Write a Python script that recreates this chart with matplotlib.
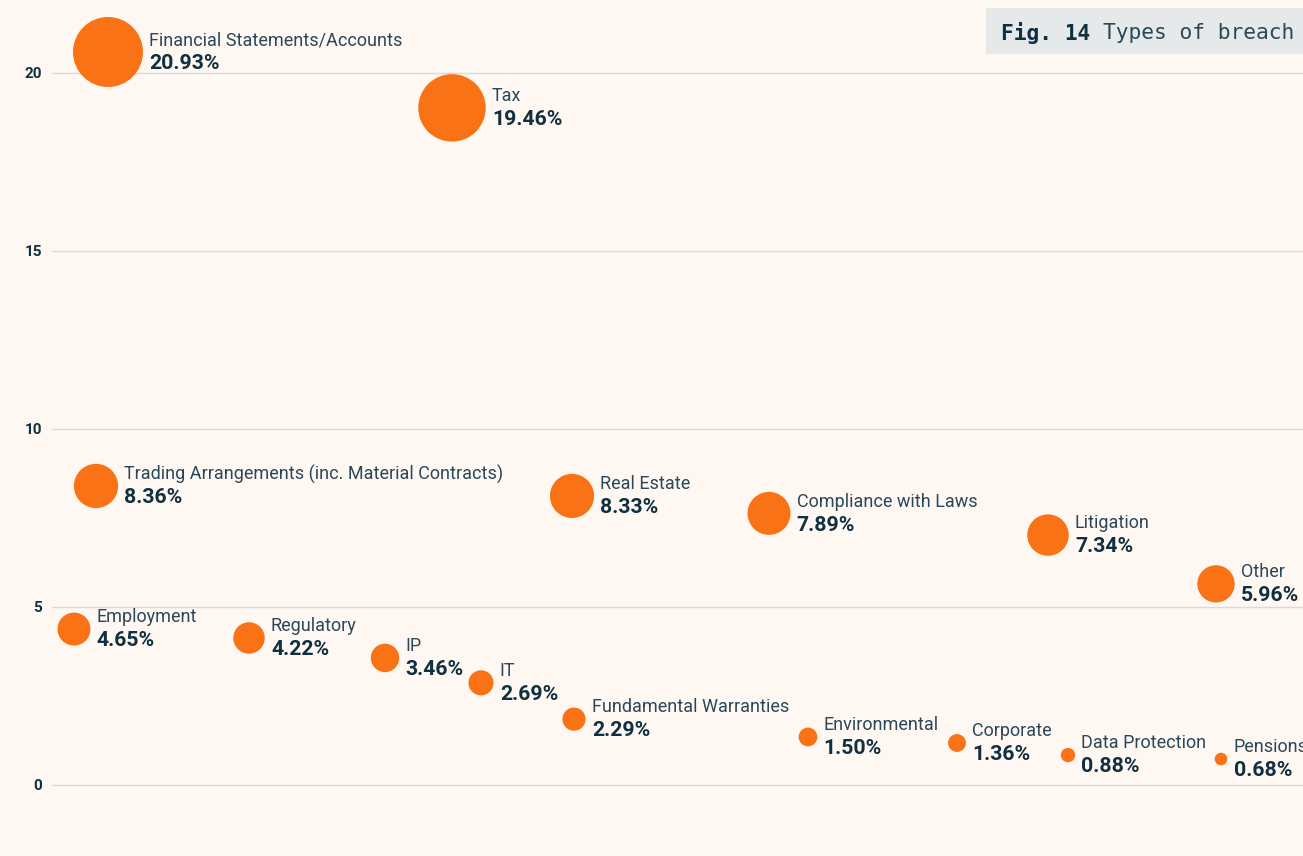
import numpy as np
import matplotlib

matplotlib.use("Agg")
import matplotlib.pyplot as plt
from matplotlib.patches import Rectangle

# breach types, share of claims (%)
categories = [
    "Financial Statements/Accounts", "Tax",
    "Trading Arrangements (inc. Material Contracts)", "Real Estate",
    "Compliance with Laws", "Litigation", "Other", "Employment",
    "Regulatory", "IP", "IT", "Fundamental Warranties", "Environmental",
    "Corporate", "Data Protection", "Pensions",
]
share = [20.93, 19.46, 8.36, 8.33, 7.89, 7.34, 5.96, 4.65,
         4.22, 3.46, 2.69, 2.29, 1.50, 1.36, 0.88, 0.68]
# bubble placement (no visible x axis)
x_pos = [56, 400, 44, 520, 717, 996, 1164, 22,
         197, 333, 429, 522, 756, 905, 1016, 1169]
y_pos = [20.59, 19.02, 8.40, 8.12, 7.63, 7.02, 5.65, 4.38,
         4.13, 3.57, 2.87, 1.85, 1.35, 1.18, 0.84, 0.73]
y_ticks = [0, 5, 10, 15, 20]

BG = "#fff7f2"
ORANGE = "#f97316"
INK = "#0f3040"
INK_LIGHT = "#29485a"

W, H = 1303, 856
fig = plt.figure(figsize=(W / 100, H / 100), dpi=100, facecolor=BG)
ax = fig.add_axes([52 / W, 0, 1 - 52 / W, 1])
ax.set_facecolor(BG)
ax.set_xlim(0, W - 52)
ax.set_ylim(-(H - 785) / 35.6, 785 / 35.6)

for t in y_ticks:
    ax.axhline(t, color="#d9dbdc", lw=1.0, zorder=0)

sizes = np.array(share) * (50.4 ** 2 / 20.93)
ax.scatter(x_pos, y_pos, s=sizes, color=ORANGE, edgecolor="none", zorder=3, clip_on=False)

for name, v, x, y, s in zip(categories, share, x_pos, y_pos, sizes):
    dx = np.sqrt(s) / 2 + 4.5
    ax.annotate(name, (x, y), xytext=(dx, 8.5), textcoords="offset points",
                ha="left", va="center", fontsize=13, family="Roboto",
                color=INK_LIGHT, annotation_clip=False)
    ax.annotate(f"{v:.2f}%", (x, y), xytext=(dx, -8.5), textcoords="offset points",
                ha="left", va="center", fontsize=15.3, family="Roboto",
                fontweight="bold", color=INK, annotation_clip=False)

ax.set_yticks(y_ticks)
ax.set_yticklabels([str(t) for t in y_ticks])
ax.set_xticks([])
ax.tick_params(axis="y", length=0, pad=7, labelsize=11, labelcolor=INK)
for lbl in ax.get_yticklabels():
    lbl.set_fontweight("bold")
    lbl.set_family("Roboto")
for sp in ax.spines.values():
    sp.set_visible(False)

# title box, top right
fig.patches.append(Rectangle((986 / W, 1 - 54 / H), (W - 986) / W, 46 / H,
                             transform=fig.transFigure, facecolor="#e6e9e9",
                             edgecolor="none", zorder=5))
t1 = fig.text(1001 / W, 1 - 33 / H, "Fig. 14", fontsize=15.3, family="DejaVu Sans Mono",
              fontweight="bold", color=INK, va="center", ha="left", zorder=6)
fig.canvas.draw()
bb = t1.get_window_extent()
fig.text((bb.x1 + 12.5) / W, 1 - 33 / H, "Types of breach", fontsize=15.3,
         family="DejaVu Sans Mono", color=INK_LIGHT, va="center", ha="left", zorder=6)

fig.savefig("out.png", dpi=100, facecolor=BG)
